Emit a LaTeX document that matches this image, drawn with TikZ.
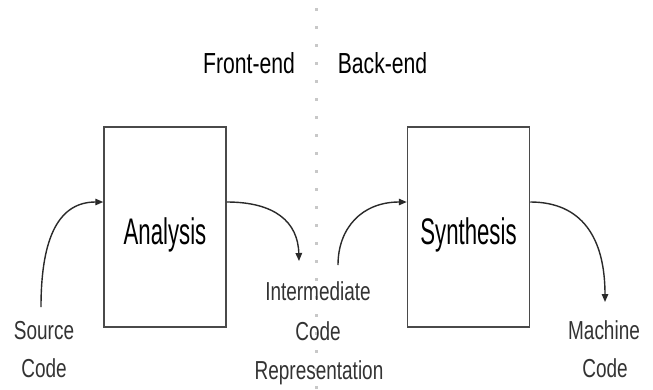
\documentclass[tikz,border=0pt]{standalone}
\usepackage{fontspec}
\setmainfont{Liberation Sans}
\newfontfamily\labfont{Liberation Sans}[FakeStretch=0.73]
\newfontfamily\bigfont{Liberation Sans}[FakeStretch=0.6]
\usetikzlibrary{arrows.meta}
\definecolor{boxline}{HTML}{4A4A4A}
\definecolor{arrowcol}{HTML}{2A2A2A}
\definecolor{labcol}{HTML}{333333}
\definecolor{dotcol}{HTML}{C8C8C8}
\tikzset{
  procbox/.style={draw=boxline, line width=1.5pt, minimum width=122pt, minimum height=200pt, inner sep=0pt},
  bigtxt/.style={anchor=base, inner sep=0pt, font=\bigfont\fontsize{37}{40}\selectfont, text=black},
  headtxt/.style={anchor=base, inner sep=0pt, font=\labfont\fontsize{29}{32}\selectfont, text=black},
  labtxt/.style={anchor=base, inner sep=0pt, font=\labfont\fontsize{26}{30}\selectfont, text=labcol},
  flow/.style={draw=arrowcol, line width=1.4pt, -{Triangle[length=8pt,width=6.5pt]}},
  divider/.style={draw=dotcol, line width=3pt, dash pattern=on 3pt off 15pt}
}
\begin{document}
\begin{tikzpicture}[x=1pt,y=-1pt]
\fill[white] (0,0) rectangle (653,389);
\useasboundingbox (0,0) rectangle (653,389);
% divider
\coordinate (dtop) at (316,8);
\coordinate (dbot) at (316,389);
\draw[divider] (dtop) -- (dbot);
% headings
\node[headtxt] (front) at (249,73) {Front-end};
\node[headtxt] (back) at (382.5,73) {Back-end};
% boxes
\node[procbox] (ana) at (165,227) {};
\node[procbox] (syn) at (468.5,227) {};
\node[bigtxt] (anatxt) at (165,244) {Analysis};
\node[bigtxt] (syntxt) at (468.5,244) {Synthesis};
% labels
\node[labtxt] (src1) at (44,339) {Source};
\node[labtxt] (src2) at (44,377) {Code};
\node[labtxt] (int1) at (318,300) {Intermediate};
\node[labtxt] (int2) at (318,340) {Code};
\node[labtxt] (int3) at (319,379) {Representation};
\node[labtxt] (mc1) at (604,339) {Machine};
\node[labtxt] (mc2) at (605,377) {Code};
% free ends
\coordinate (srcS) at (41,307);
\coordinate (irE) at (299,261);
\coordinate (irS) at (338,265);
\coordinate (mcE) at (605,302);
% connectors
\draw[flow] (srcS) .. controls (41,235) and (60,202) .. ([yshift=25pt]ana.west);
\draw[flow] ([yshift=25pt]ana.east) .. controls (275,202) and (298,222) .. (irE);
\draw[flow] (irS) .. controls (338,228) and (362,202) .. ([yshift=25pt]syn.west);
\draw[flow] ([yshift=25pt]syn.east) .. controls (582,202) and (605,238) .. (mcE);
\end{tikzpicture}
\end{document}
